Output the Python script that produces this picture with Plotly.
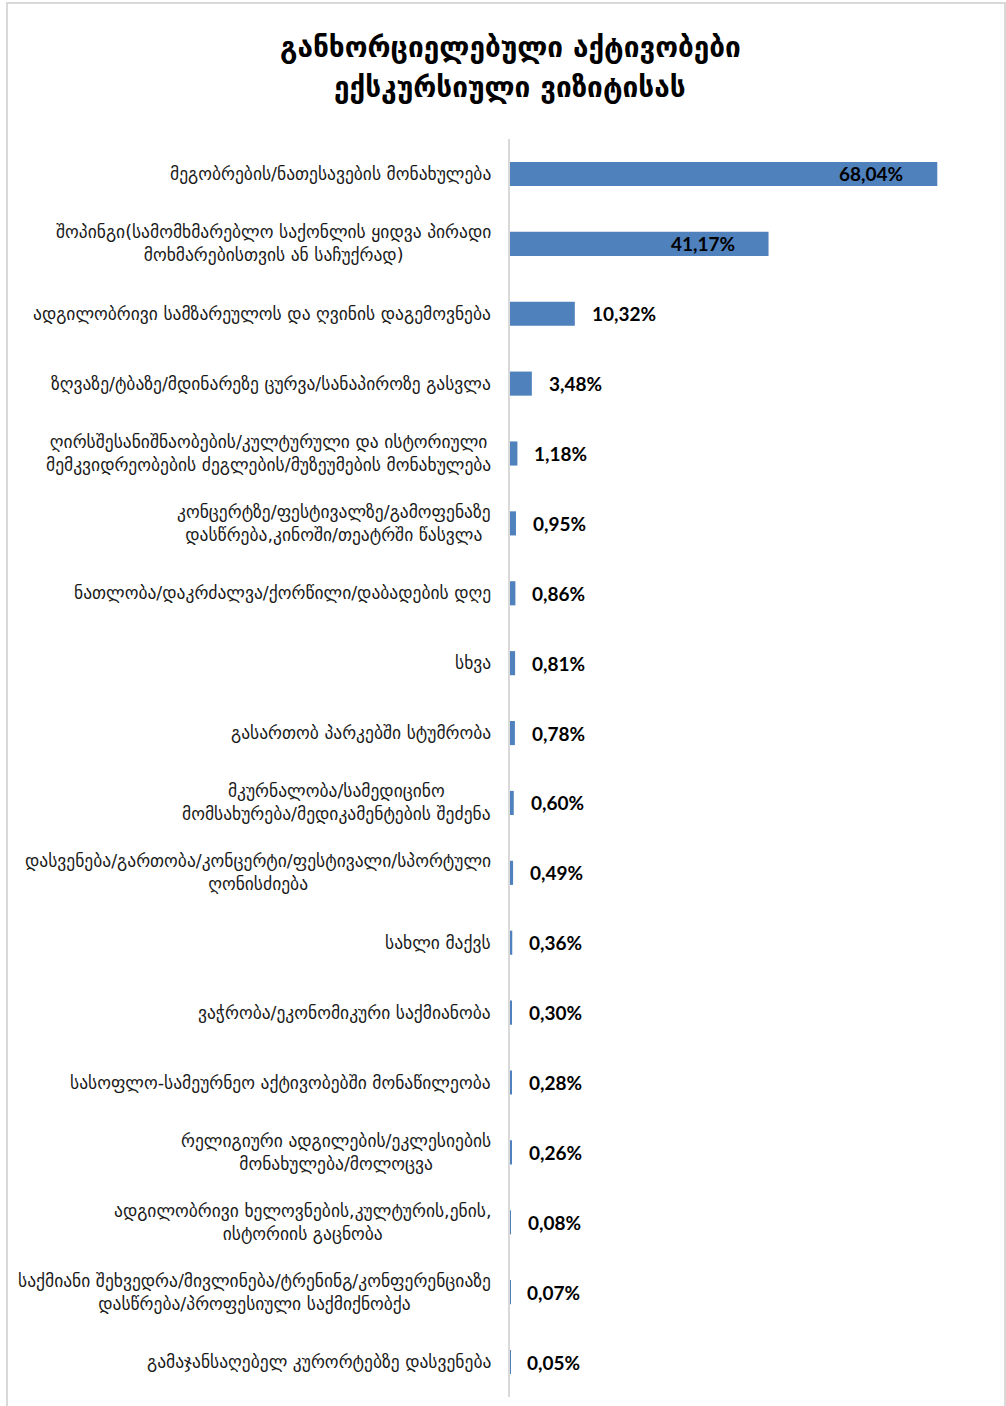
import plotly.graph_objects as go

categories = [
    "მეგობრების/ნათესავების მონახულება",
    "შოპინგი(სამომხმარებლო საქონლის ყიდვა პირადი<br>მოხმარებისთვის ან საჩუქრად)",
    "ადგილობრივი სამზარეულოს და ღვინის დაგემოვნება",
    "ზღვაზე/ტბაზე/მდინარეზე ცურვა/სანაპიროზე გასვლა",
    "ღირსშესანიშნაობების/კულტურული და ისტორიული<br>მემკვიდრეობების ძეგლების/მუზეუმების მონახულება",
    "კონცერტზე/ფესტივალზე/გამოფენაზე<br>დასწრება,კინოში/თეატრში წასვლა",
    "ნათლობა/დაკრძალვა/ქორწილი/დაბადების დღე",
    "სხვა",
    "გასართობ პარკებში სტუმრობა",
    "მკურნალობა/სამედიცინო<br>მომსახურება/მედიკამენტების შეძენა",
    "დასვენება/გართობა/კონცერტი/ფესტივალი/სპორტული<br>ღონისძიება",
    "სახლი მაქვს",
    "ვაჭრობა/ეკონომიკური საქმიანობა",
    "სასოფლო-სამეურნეო აქტივობებში მონაწილეობა",
    "რელიგიური ადგილების/ეკლესიების<br>მონახულება/მოლოცვა",
    "ადგილობრივი ხელოვნების,კულტურის,ენის,<br>ისტორიის გაცნობა",
    "საქმიანი შეხვედრა/მივლინება/ტრენინგ/კონფერენციაზე<br>დასწრება/პროფესიული საქმიქნობქა",
    "გამაჯანსაღებელ კურორტებზე დასვენება",
]
values = [68.04, 41.17, 10.32, 3.48, 1.18, 0.95, 0.86, 0.81, 0.78, 0.60,
          0.49, 0.36, 0.30, 0.28, 0.26, 0.08, 0.07, 0.05]
title_lines = ["განხორციელებული აქტივობები", "ექსკურსიული ვიზიტისას"]

def fmt(v):
    return f"{v:.2f}".replace(".", ",") + "%"

W, H = 1006, 1406
L, R, T, B = 510, 16, 139, 9
PX_PER = 6.28
pw = W - L - R
ph = H - T - B
xmax = pw / PX_PER

fig = go.Figure()
fig.add_trace(go.Bar(
    x=values, y=categories, orientation="h",
    marker=dict(color="#4F81BD", line=dict(width=0)),
    hoverinfo="skip",
))

annotations = []
for c, v in zip(categories, values):
    inside = v > 30
    annotations.append(dict(
        x=v, y=c, xref="x", yref="y",
        text="<b>" + fmt(v) + "</b>", showarrow=False,
        xanchor="right" if inside else "left",
        xshift=-32 if inside else 15,
        font=dict(family="Lato, Open Sans, sans-serif", size=19, color="#000000"),
    ))
    annotations.append(dict(
        x=0, y=c, xref="paper", yref="y",
        text=c, showarrow=False, xanchor="right", align="center",
        xshift=-17,
        font=dict(family="DejaVu Sans, sans-serif", size=17.5, color="#1a1a1a"),
    ))

for line, ypx in zip(title_lines, [47, 88]):
    annotations.append(dict(
        x=(510 - L) / pw, y=(H - B - ypx) / ph,
        xref="paper", yref="paper", showarrow=False,
        text="<b>" + line + "</b>",
        xanchor="center", yanchor="middle", align="center",
        font=dict(family="DejaVu Sans, sans-serif", size=28, color="#000000"),
    ))

fig.add_shape(
    type="rect", xref="paper", yref="paper",
    x0=(7 - L) / pw, x1=(1005 - L) / pw,
    y0=-0.05, y1=(H - B - 3) / ph,
    line=dict(color="#d9d9d9", width=2), fillcolor="rgba(0,0,0,0)", layer="below",
)

fig.update_layout(
    width=W, height=H,
    margin=dict(l=L, r=R, t=T, b=B),
    paper_bgcolor="white", plot_bgcolor="white",
    showlegend=False, bargap=0.655,
    annotations=annotations,
    xaxis=dict(range=[0, xmax], visible=False, fixedrange=True),
    yaxis=dict(autorange="reversed", showticklabels=False, ticks="",
               showline=True, linecolor="#d9d9d9", linewidth=2,
               showgrid=False, zeroline=False, fixedrange=True),
)

fig.write_html("out.html", config={"displayModeBar": False},
               post_script="document.body.style.margin='0';")
